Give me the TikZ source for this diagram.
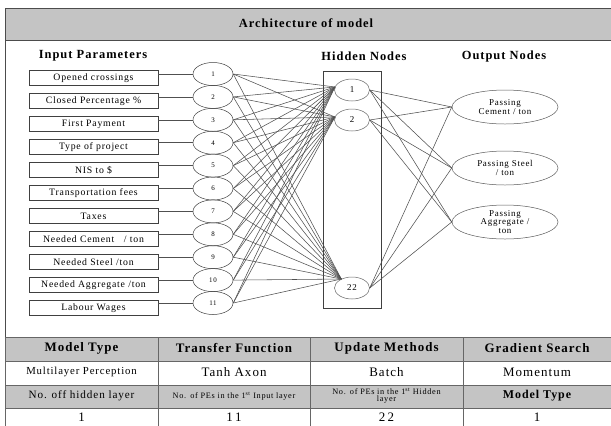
\documentclass[tikz,border=0pt]{standalone}
\usepackage{fontspec}
\setmainfont{Liberation Serif}[LetterSpace=8]
\usetikzlibrary{shapes.geometric}
\definecolor{band}{HTML}{C4C4C4}
\definecolor{wire}{HTML}{505050}
\tikzset{
  inbox/.style={draw=black!75,line width=0.6pt,minimum width=129bp,minimum height=15bp,inner sep=0pt,font=\fontsize{9.8}{10}\selectfont},
  inell/.style={ellipse,draw=black!75,line width=0.5pt,minimum width=40bp,minimum height=23bp,inner sep=0pt,font=\fontsize{7}{8}\selectfont},
  hidell/.style={ellipse,draw=black!60,line width=0.5pt,fill=white,minimum width=35bp,minimum height=22bp,inner sep=0pt,font=\fontsize{9}{9}\selectfont},
  outell/.style={ellipse,draw=black!65,line width=0.5pt,minimum width=106bp,minimum height=34bp,inner sep=0pt,align=center,font=\fontsize{9}{8.5}\selectfont},
  wireline/.style={draw=wire,line width=0.55pt},
  heading/.style={font=\bfseries\fontsize{12.5}{13}\selectfont,inner sep=0pt},
  cellhead/.style={font=\bfseries\fontsize{13}{13}\selectfont,inner sep=0pt},
  cellbody/.style={font=\fontsize{13}{13}\selectfont,inner sep=0pt},
  celltiny/.style={font=\fontsize{8.3}{7}\selectfont,inner sep=0pt,align=center,text width=150bp},
}
\begin{document}
\begin{tikzpicture}[x=1bp,y=-1bp]
\useasboundingbox (0,0) rectangle (611,425);
% frame and title band
\draw[black!70,line width=1pt,fill=band] (5,8) rectangle (613,40);
\draw[black!70,line width=1pt] (5,40) -- (5,426);
\node[font=\bfseries\fontsize{12.5}{13}\selectfont] (title) at (306,23) {Architecture of model};
% headings
\node[heading] (hin) at (93,56) {Input Parameters};
\node[heading] (hhid) at (364,56) {Hidden Nodes};
\node[heading] (hout) at (504,56) {Output Nodes};
% hidden box
\draw[black!75,line width=0.6pt] (323,71) rectangle (381,308);
% input boxes and ellipses
\foreach \i/\t in {1/{Opened crossings},2/{Closed Percentage \%},3/{First Payment},4/{Type of project},5/{NIS to \$},6/{Transportation fees},7/{Taxes},8/{Needed Cement \ \ / ton},9/{Needed Steel /ton},10/{Needed Aggregate /ton},11/{Labour Wages}}{
  \node[inbox] (b\i) at (93.5,{78+23*(\i-1)}) {\t};
  \node[inell] (e\i) at (213,{74+22.9*(\i-1)}) {\i};
}
% hidden nodes
\node[hidell] (h1) at (352,90) {1};
\node[hidell] (h2) at (352,120) {2};
\node[hidell] (h22) at (352,288) {22};
% output nodes
\node[outell] (o1) at (505,107) {Passing\\Cement / ton};
\node[outell] (o2) at (505,168) {Passing Steel\\/ ton};
\node[outell] (o3) at (505,222) {Passing\\Aggregate /\\ton};
% connectors
\foreach \i in {1,...,11}{
  \draw[wireline] (e\i.west) -- (e\i.west -| b\i.east);
  \draw[wireline] (e\i.east) -- (h1.170);
  \draw[wireline] (e\i.east) -- (h2.170);
  \draw[wireline] (e\i.east) -- (h22.140);
}
\foreach \h in {h1,h2,h22}{
  \foreach \o in {o1,o2,o3}{
    \draw[wireline] (\h.east) -- (\o.west);
  }
}
% table
\fill[band] (5,337) rectangle (613,361);
\fill[band] (5,385) rectangle (613,408);
\draw[black!60,line width=0.8pt] (5,337) -- (613,337) (5,361) -- (613,361) (5,385) -- (613,385) (5,408) -- (613,408);
\draw[black!60,line width=0.8pt] (5,337) -- (5,426) (158,337) -- (158,426) (310,337) -- (310,426) (463,337) -- (463,426);
\node[cellhead] (t11) at (81.5,348.5) {Model Type};
\node[cellhead] (t12) at (234,348.5) {Transfer Function};
\node[cellhead] (t13) at (386.5,348.5) {Update Methods};
\node[cellhead] (t14) at (537,348.5) {Gradient Search};
\node[font=\fontsize{10.8}{12}\selectfont,inner sep=0pt] (t21) at (81.5,372) {Multilayer Perception};
\node[cellbody] (t22) at (234,372) {Tanh Axon};
\node[cellbody] (t23) at (386.5,372) {Batch};
\node[cellbody] (t24) at (537,372) {Momentum};
\node[font=\fontsize{11.2}{12}\selectfont,inner sep=0pt] (t31) at (81.5,396) {No. off hidden layer};
\node[celltiny] (t32) at (234,396) {No. of PEs in the 1\textsuperscript{st} Input layer};
\node[celltiny,text width=135bp] (t33) at (386.5,396) {No. of PEs in the 1\textsuperscript{st} Hidden\\layer};
\node[font=\bfseries\fontsize{12}{12}\selectfont,inner sep=0pt] (t34) at (537,396) {Model Type};
\node[cellbody] (t41) at (81.5,417.5) {1};
\node[cellbody] (t42) at (234,417.5) {1\,1};
\node[cellbody] (t43) at (386.5,417.5) {2\,2};
\node[cellbody] (t44) at (537,417.5) {1};
\end{tikzpicture}
\end{document}
